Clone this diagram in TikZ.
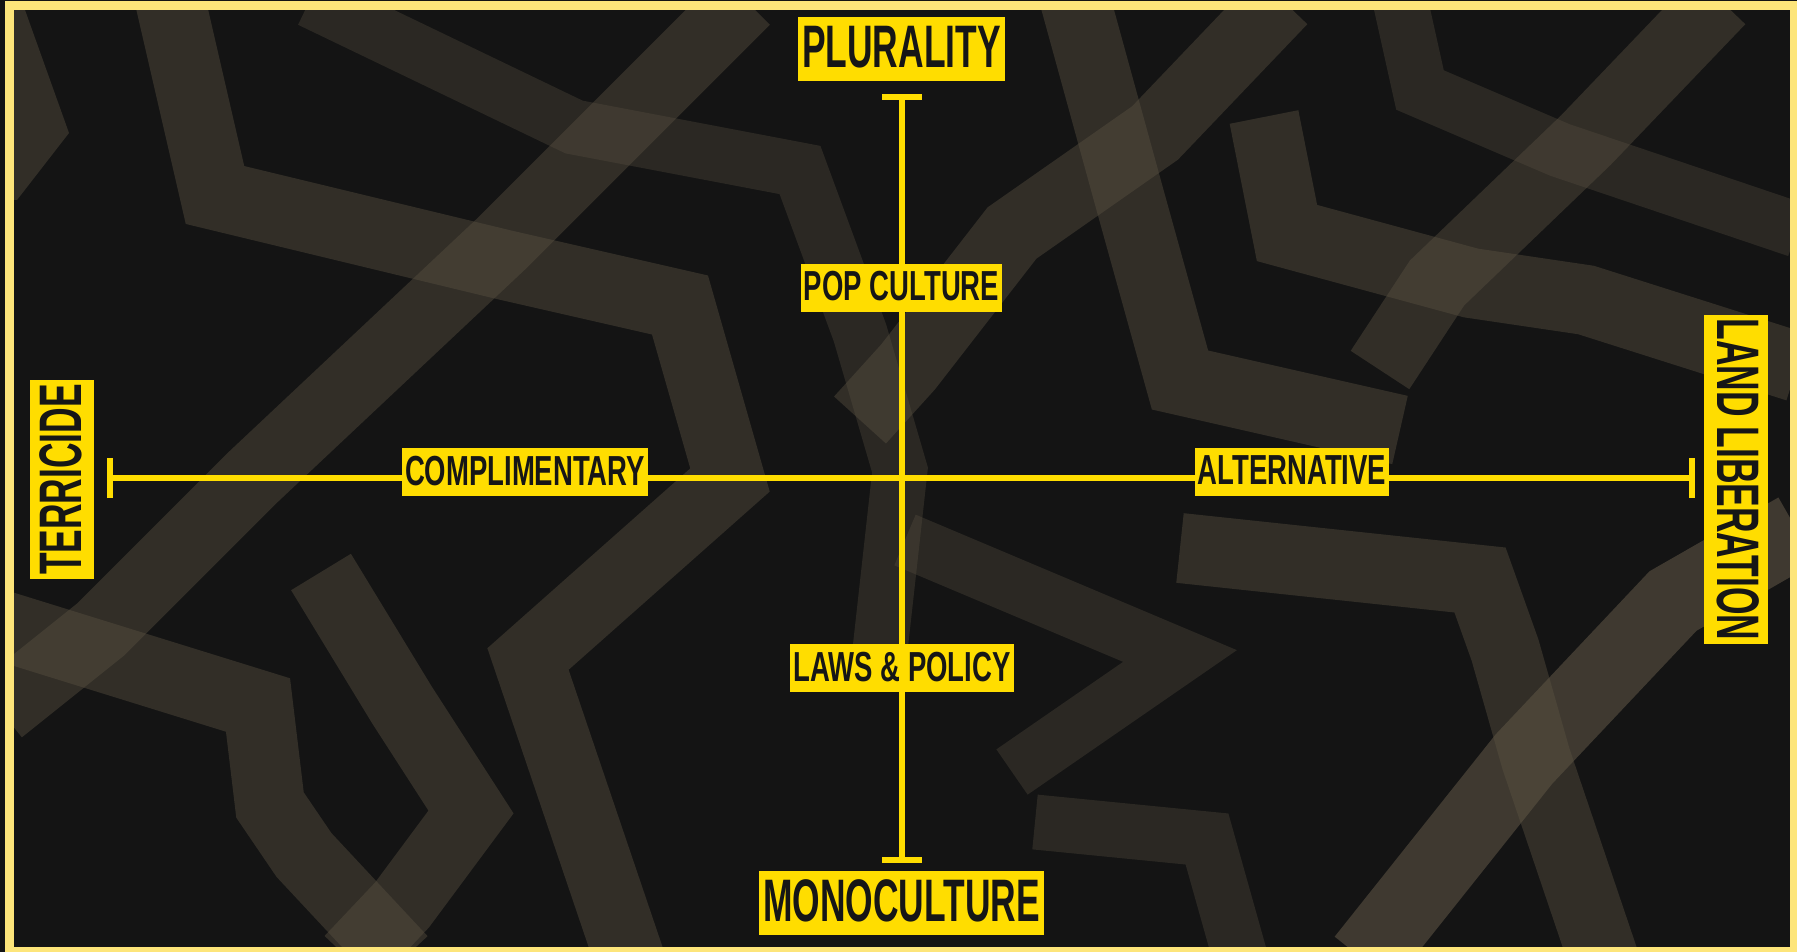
\documentclass[tikz,border=0pt]{standalone}
\usepackage{fontspec}
\newfontfamily\bigf[FakeStretch=0.59]{Liberation Sans}
\newfontfamily\smallf[FakeStretch=0.655]{Liberation Sans}
\definecolor{bgdark}{HTML}{141414}
\definecolor{labyellow}{HTML}{FFDD00}
\definecolor{framec}{HTML}{FDE57A}
\definecolor{bandc}{HTML}{5C5343}
\definecolor{inkc}{HTML}{161616}
\tikzset{
  biglab/.style={fill=labyellow, text=inkc, inner xsep=4pt, inner ysep=0pt,
    text height=51pt, text depth=13pt,
    font=\bigf\bfseries\fontsize{60}{60}\selectfont},
  smalllab/.style={fill=labyellow, text=inkc, inner xsep=3pt, inner ysep=0pt,
    text height=37pt, text depth=11pt,
    font=\smallf\bfseries\fontsize{42}{42}\selectfont},
  axis/.style={draw=labyellow, line width=6pt},
  band/.style={draw=bandc, line width=70pt, opacity=0.42, line join=miter},
  thinband/.style={draw=bandc, line width=55pt, opacity=0.32, line join=miter},
  denseband/.style={draw=bandc, line width=75pt, opacity=0.6, line join=miter}
}
\begin{document}
\begin{tikzpicture}[x=1pt,y=-1pt]
\useasboundingbox (0,0) rectangle (1797,952);
\fill[bgdark] (0,0) rectangle (1797,952);
% background stipple bands (approximation)
\begin{scope}
\clip (12,10) rectangle (1790,948);
\fill[bandc, opacity=0.42] (12,10) -- (25,10) -- (69,133) -- (17,200) -- (12,200) -- cycle;
\draw[band] (170,0) -- (215,195) -- (505,265) -- (680,305) -- (730,480) -- (528,659) -- (630,960);
\draw[band] (745,0) -- (500,245) -- (250,480) -- (100,630) -- (0,710);
\draw[thinband] (310,0) -- (574,127) -- (800,170) -- (860,333) -- (900,470) -- (880,650);
\draw[band] (1075,0) -- (1130,200) -- (1180,380) -- (1400,430);
\draw[band] (1720,0) -- (1586,140) -- (1437,283) -- (1380,370);
\draw[band] (1282,0) -- (1155,133) -- (1012,233) -- (908,367) -- (860,420);
\draw[thinband] (1400,0) -- (1420,90) -- (1560,150) -- (1797,230);
\draw[band] (1264,117) -- (1287,233) -- (1471,283) -- (1586,300) -- (1797,367);
\draw[band] (1180,548) -- (1480,580) -- (1505,650) -- (1536,759) -- (1604,960);
\draw[denseband] (1797,530) -- (1673,601) -- (1524,759) -- (1364,960);
\draw[thinband] (905,540) -- (1180,656) -- (1012,772);
\draw[thinband] (1035,822) -- (1207,839) -- (1241,960);
\draw[band] (0,625) -- (258,705) -- (270,805) -- (304,855) -- (402,960);
\draw[band] (321,572) -- (402,705) -- (471,812) -- (402,905) -- (350,960);
\end{scope}
% frame
\draw[framec, line width=8.5pt] (9.5,5.5) rectangle (1794,951);
% axis end points
\coordinate (vtop) at (902,97);
\coordinate (vbot) at (902,860);
\coordinate (hl) at (110,478);
\coordinate (hr) at (1692,478);
\draw[axis] (vtop) -- (vbot);
\draw[axis] (hl) -- (hr);
\draw[axis] ([xshift=-20pt]vtop) -- ([xshift=20pt]vtop);
\draw[axis] ([xshift=-20pt]vbot) -- ([xshift=20pt]vbot);
\draw[axis] ([yshift=-20pt]hl) -- ([yshift=20pt]hl);
\draw[axis] ([yshift=-20pt]hr) -- ([yshift=20pt]hr);
% labels
\node[biglab] (plur) at (901.5,49) {PLURALITY};
\node[biglab] (mono) at (901.5,902.5) {MONOCULTURE};
\node[biglab, rotate=90] (terr) at (62,479.5) {TERRICIDE};
\node[biglab, rotate=-90] (land) at (1736,479.5) {LAND LIBERATION};
\node[smalllab] (pop) at (901.5,288) {POP CULTURE};
\node[smalllab] (laws) at (902,668) {LAWS \& POLICY};
\node[smalllab] (comp) at (525,472) {COMPLIMENTARY};
\node[smalllab] (alt) at (1292,471.5) {ALTERNATIVE};
\end{tikzpicture}
\end{document}
